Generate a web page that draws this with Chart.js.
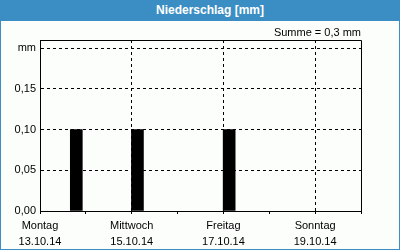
<!DOCTYPE html>
<html>
<head>
<meta charset="utf-8">
<script src="https://cdn.jsdelivr.net/npm/chart.js@4"></script>
<style>
    body { margin: 0; background: #fbfefb; }
    #wrap { position: relative; width: 400px; height: 250px; }
    #chart { position: absolute; left: 0; top: 0; }
    #frame { position: absolute; left: 0; top: 0; width: 400px; height: 250px; box-sizing: border-box; border: 1px solid #3b8ec4; }
    #head { position: absolute; left: 0; top: 0; width: 400px; height: 21px; background: #3b8ec4; color: #fff;
            font: bold 12px "Liberation Sans", Arial, sans-serif; line-height: 21px; text-align: center; padding-left: 20px; box-sizing: border-box; }
</style>
</head>
<body>
<div id="wrap">
    <canvas id="chart" width="400" height="250"></canvas>
    <div id="frame"></div>
    <div id="head">Niederschlag [mm]</div>
</div>
<script>
// hours since Monday 13.10.14 00:00
const barHours = [19, 51, 99];
const rainValues = [0.1, 0.1, 0.1];
const dayNames = ['Montag', 'Dienstag', 'Mittwoch', 'Donnerstag', 'Freitag', 'Samstag', 'Sonntag'];
const dayDates = ['13.10.14', '14.10.14', '15.10.14', '16.10.14', '17.10.14', '18.10.14', '19.10.14'];
const sumLabel = 'Summe = 0,3 mm';

document.addEventListener("DOMContentLoaded", function () {
    const font = { family: '"Liberation Sans", Arial, sans-serif', size: 11 };

    // top and right edge of the plot box
    const frame = {
        id: 'frame',
        afterDraw(chart) {
            const a = chart.chartArea;
            const c = chart.ctx;
            c.save();
            c.strokeStyle = '#000';
            c.lineWidth = 1;
            c.beginPath();
            c.moveTo(Math.round(a.left) + 0.5, Math.round(a.top) + 0.5);
            c.lineTo(Math.round(a.right) + 0.5, Math.round(a.top) + 0.5);
            c.lineTo(Math.round(a.right) + 0.5, Math.round(a.bottom) + 0.5);
            c.stroke();
            c.restore();
        }
    };

    new Chart(document.getElementById('chart').getContext('2d'), {
        type: 'bar',
        data: {
            datasets: [{
                data: barHours.map((h, i) => ({ x: h, y: rainValues[i] })),
                backgroundColor: '#000',
                barThickness: 12
            }]
        },
        options: {
            responsive: false,
            animation: false,
            devicePixelRatio: 1,
            layout: { padding: { left: 0, right: 39, top: 0, bottom: 0 } },
            plugins: {
                legend: { display: false },
                tooltip: { enabled: false },
                title: {
                    display: true,
                    text: sumLabel,
                    align: 'end',
                    color: '#000',
                    font: { family: font.family, size: 11, weight: 'normal', lineHeight: '13px' },
                    padding: { top: 26, bottom: 1 }
                }
            },
            scales: {
                x: {
                    type: 'linear',
                    min: 0,
                    max: 168,
                    offset: false,
                    afterFit: s => { s.height = 39; },
                    grid: {
                        offset: false,
                        color: c => c.index % 2 === 0 ? '#000' : 'rgba(0,0,0,0)',
                        tickColor: '#000',
                        tickLength: 3
                    },
                    border: { color: '#000', dash: [3, 3] },
                    ticks: {
                        stepSize: 24,
                        autoSkip: false,
                        maxRotation: 0,
                        padding: 4,
                        color: '#000',
                        font: { family: font.family, size: 11, lineHeight: '16px' },
                        callback: (v, i) => (i % 2 === 0 && i < dayNames.length) ? [dayNames[i], dayDates[i]] : ''
                    }
                },
                y: {
                    min: 0,
                    max: 0.21,
                    afterFit: s => { s.width = 40; },
                    grid: { color: '#000', drawTicks: false },
                    border: { color: '#000', dash: [3, 3] },
                    ticks: {
                        stepSize: 0.05,
                        includeBounds: false,
                        padding: 4,
                        color: '#000',
                        font: font,
                        callback: v => Math.abs(v - 0.2) < 1e-9 ? 'mm' : v.toFixed(2).replace('.', ',')
                    }
                }
            }
        },
        plugins: [frame]
    });
});
</script>
</body>
</html>
